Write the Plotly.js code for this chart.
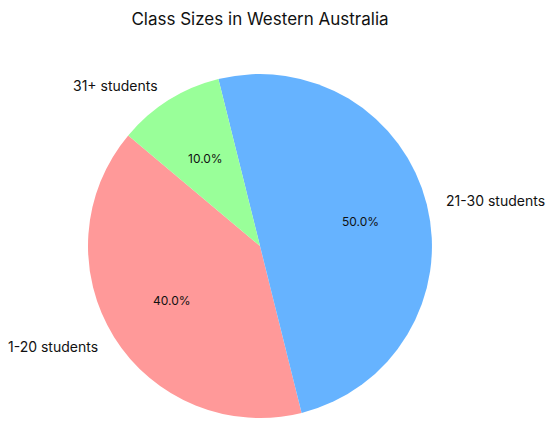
<!DOCTYPE html>
<html>
<head>
<meta charset="utf-8">
<script src="https://cdn.plot.ly/plotly-3.0.1.min.js"></script>
<style>html,body{margin:0;padding:0;background:#fff;}#chart{width:552px;height:430px;}</style>
</head>
<body>
<div id="chart"></div>
<script>
var categories = ["1-20 students", "21-30 students", "31+ students"];
var values = [40, 50, 10];
var colors = ["#ff9999", "#66b3ff", "#99ff99"];
var startAngle = 140; // degrees, counterclockwise from 3 o'clock

var FONT = "Inter, Roboto, 'Noto Sans', sans-serif";
var total = values.reduce(function(a, b){ return a + b; }, 0);
var annotations = [];
var cum = startAngle;
values.forEach(function(v, i){
  var span = v / total * 360;
  var mid = (cum + span / 2) * Math.PI / 180;
  cum += span;
  var cx = Math.cos(mid), cy = Math.sin(mid);
  annotations.push({
    xref: "paper", yref: "paper",
    x: 0.5 + 0.5 * 0.6 * cx, y: 0.5 + 0.5 * 0.6 * cy,
    text: (v / total * 100).toFixed(1) + "%",
    showarrow: false, xanchor: "center", yanchor: "middle",
    font: {family: FONT, size: 12, color: "#111"}
  });
  annotations.push({
    xref: "paper", yref: "paper",
    x: 0.5 + 0.5 * 1.1 * cx, y: 0.5 + 0.5 * 1.1 * cy,
    text: categories[i],
    showarrow: false, xanchor: cx >= 0 ? "left" : "right", yanchor: "middle",
    font: {family: FONT, size: 14, color: "#111"}
  });
});

// Plotly (counterclockwise) places the first slice clockwise of "rotation",
// so rotate by the first slice's span to start it at startAngle going ccw.
var firstSpan = values[0] / total * 360;

var trace = {
  type: "pie",
  labels: categories,
  values: values,
  marker: {colors: colors, line: {width: 0}},
  sort: false,
  direction: "counterclockwise",
  rotation: 90 - startAngle - firstSpan,
  textinfo: "none",
  hoverinfo: "label+percent",
  showlegend: false
};

var layout = {
  width: 552, height: 430,
  margin: {l: 88, r: 120, t: 74, b: 12},
  paper_bgcolor: "#fff",
  showlegend: false,
  title: {
    text: "Class Sizes in Western Australia",
    xref: "paper", x: 0.5, xanchor: "center",
    yref: "container", y: 1 - 19 / 430, yanchor: "middle",
    font: {family: FONT, size: 17, color: "#111"}
  },
  annotations: annotations
};

Plotly.newPlot("chart", [trace], layout, {displayModeBar: false, staticPlot: true});
</script>
</body>
</html>
